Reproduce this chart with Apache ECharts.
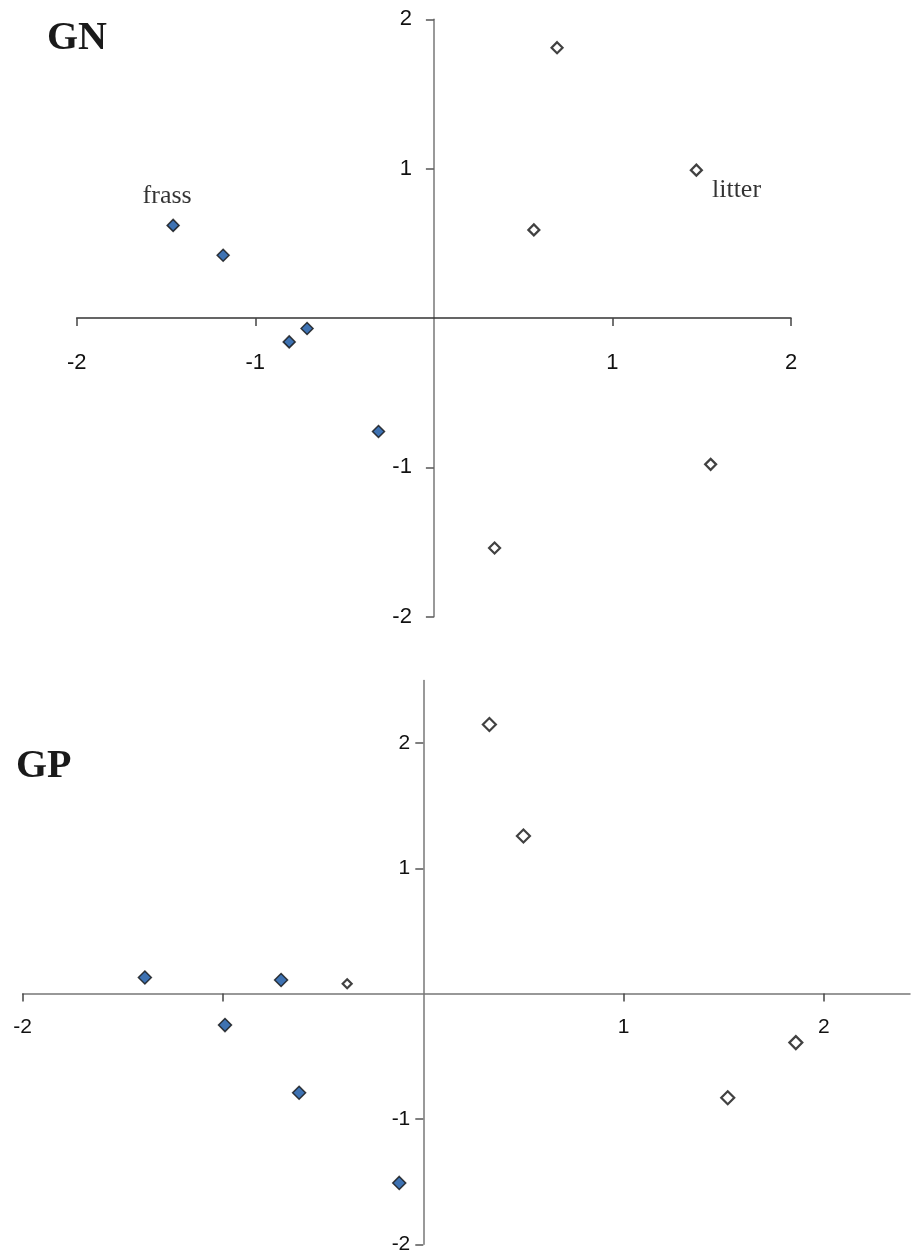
<!DOCTYPE html>
<html>
<head>
<meta charset="utf-8">
<script src="https://cdn.jsdelivr.net/npm/echarts@6/dist/echarts.min.js"></script>
<style>
  html, body { margin: 0; padding: 0; background: #fff; }
  #chart { width: 912px; height: 1254px; }
</style>
</head>
<body>
<div id="chart"></div>
<script>
// GN panel
const gnFrass = [[-1.46, 0.62], [-1.18, 0.42], [-0.81, -0.16], [-0.71, -0.07], [-0.31, -0.76]];
const gnLitter = [[0.69, 1.81], [0.56, 0.59], [1.47, 0.99], [1.55, -0.98], [0.34, -1.54]];

// GP panel
const gpFrass = [[-1.39, 0.13], [-0.99, -0.25], [-0.71, 0.11], [-0.62, -0.79], [-0.12, -1.51]];
const gpLitter = [[0.33, 2.15], [0.50, 1.26], [1.86, -0.39], [1.52, -0.83]];
const gpSmall = [[-0.38, 0.08]];

const tickValues = [-2, -1, 1, 2];
const gpXLabels = [-2, 1, 2]; // the -1 label sits under a marker in the original

const chart = echarts.init(document.getElementById('chart'));

// axes sit at the zero of the other axis; offset moves them there from the grid edge
function xAxisFor(gridIndex, min, max, offset, lineColor, margin, fontSize, labels) {
    return {
        type: 'value',
        gridIndex: gridIndex,
        min: min,
        max: max,
        interval: 1,
        position: 'bottom',
        offset: offset,
        splitLine: { show: false },
        axisLine: { onZero: false, lineStyle: { color: lineColor, width: 1.5 } },
        axisTick: { show: true, length: 8, customValues: tickValues, lineStyle: { color: '#444', width: 1.5 } },
        axisLabel: {
            customValues: labels,
            margin: margin,
            color: '#111',
            fontSize: fontSize,
            fontFamily: 'Liberation Sans',
        },
    };
}

function yAxisFor(gridIndex, min, max, offset, margin, fontSize) {
    return {
        type: 'value',
        gridIndex: gridIndex,
        min: min,
        max: max,
        interval: 1,
        position: 'left',
        offset: offset,
        splitLine: { show: false },
        axisLine: { onZero: false, lineStyle: { color: '#777', width: 1.5 } },
        axisTick: { show: true, length: 8, customValues: tickValues, lineStyle: { color: '#555', width: 1.5 } },
        axisLabel: {
            customValues: tickValues,
            margin: margin,
            color: '#111',
            fontSize: fontSize,
            fontFamily: 'Liberation Sans',
        },
    };
}

const filledStyle = { color: '#0e4f9f', borderColor: '#111', borderWidth: 1.5 };
const openStyle = { color: '#fff', borderColor: '#111', borderWidth: 2.2 };
const labelFont = { fontFamily: 'Liberation Serif', fontSize: 26, color: '#000' };

chart.setOption({
    animation: false,
    backgroundColor: '#fff',
    title: [
        {
            text: 'GN', left: 47, top: 19, padding: 0,
            textStyle: { fontFamily: 'Liberation Serif', fontWeight: 'bold', fontSize: 40, color: '#1a1a1a' },
        },
        {
            text: 'GP', left: 16, top: 747, padding: 0,
            textStyle: { fontFamily: 'Liberation Serif', fontWeight: 'bold', fontSize: 40, color: '#1a1a1a' },
        },
    ],
    grid: [
        { left: 76.7, top: 19.3, width: 714.3, height: 597.4, outerBoundsMode: 'none' },
        { left: 22.7, top: 680.6, width: 887.3, height: 563.7, outerBoundsMode: 'none' },
    ],
    xAxis: [
        xAxisFor(0, -2, 2, -298.7, '#333', 34, 22, tickValues),
        xAxisFor(1, -2, 2.43, -250.8, '#777', 23, 21, gpXLabels),
    ],
    yAxis: [
        yAxisFor(0, -2, 2, -357.2, 22, 22),
        yAxisFor(1, -2, 2.5, -400.6, 13, 21),
    ],
    series: [
        {
            name: 'GN frass', type: 'scatter', xAxisIndex: 0, yAxisIndex: 0,
            symbol: 'diamond', symbolSize: 12, itemStyle: filledStyle,
            data: gnFrass.map((d, i) => i === 0
                ? { value: d, label: Object.assign({ show: true, formatter: 'frass', position: 'top', offset: [-6, -4] }, labelFont) }
                : d),
        },
        {
            name: 'GN litter', type: 'scatter', xAxisIndex: 0, yAxisIndex: 0,
            symbol: 'diamond', symbolSize: 11, itemStyle: openStyle,
            data: gnLitter.map((d, i) => i === 2
                ? { value: d, label: Object.assign({ show: true, formatter: 'litter', position: 'right', offset: [4, 20] }, labelFont) }
                : d),
        },
        {
            name: 'GP frass', type: 'scatter', xAxisIndex: 1, yAxisIndex: 1,
            symbol: 'diamond', symbolSize: 13, itemStyle: filledStyle, data: gpFrass,
        },
        {
            name: 'GP litter', type: 'scatter', xAxisIndex: 1, yAxisIndex: 1,
            symbol: 'diamond', symbolSize: 13, itemStyle: openStyle, data: gpLitter,
        },
        {
            name: 'GP other', type: 'scatter', xAxisIndex: 1, yAxisIndex: 1,
            symbol: 'diamond', symbolSize: 9, itemStyle: openStyle, data: gpSmall,
        },
    ],
});
</script>
</body>
</html>
